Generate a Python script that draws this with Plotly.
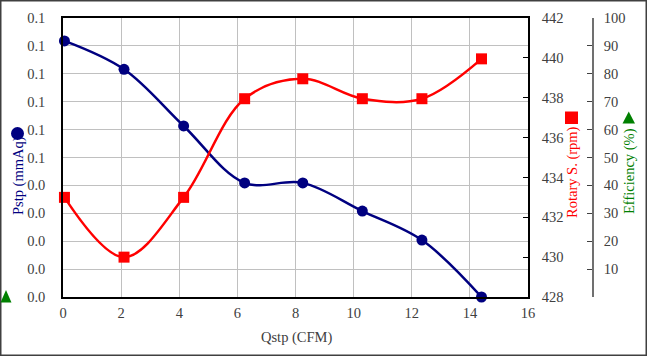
import plotly.graph_objects as go

# ---- data ----
qstp = [0.05, 2.1, 4.15, 6.25, 8.25, 10.3, 12.35, 14.4]
pstp = [0.0918, 0.0816, 0.0613, 0.0409, 0.0409, 0.0308, 0.0204, 0.0]
rotary = [433.0, 430.0, 433.0, 437.95, 438.95, 437.95, 437.95, 439.95]

left_tick_vals = [0.0, 0.01, 0.02, 0.03, 0.04, 0.05, 0.06, 0.07, 0.08, 0.09, 0.10]
left_tick_text = ["0.0", "0.0", "0.0", "0.0", "0.0", "0.1", "0.1", "0.1", "0.1", "0.1", "0.1"]
rot_tick_vals = [428, 430, 432, 434, 436, 438, 440, 442]
eff_tick_vals = [0, 10, 20, 30, 40, 50, 60, 70, 80, 90, 100]
eff_tick_text = ["", "10", "20", "30", "40", "50", "60", "70", "80", "90", "100"]
x_tick_vals = [0, 2, 4, 6, 8, 10, 12, 14, 16]

W, H = 647, 356
ML, MR, MT, MB = 63, 20, 18, 59
PW = W - ML - MR
PH = H - MT - MB

def px(x):
    return (x - ML) / PW

def py(y):
    return (H - MB - y) / PH

FONT = "Liberation Serif"
TICKC = "#404040"
NAVY = "#000080"
RED = "#ff0000"
GREEN = "#008000"
FS = 14.5

fig = go.Figure()
fig.add_trace(go.Scatter(
    x=qstp, y=pstp, mode="lines+markers", yaxis="y",
    line=dict(color=NAVY, width=2.5, shape="spline", smoothing=1),
    marker=dict(symbol="circle", size=11, color=NAVY),
    cliponaxis=False, showlegend=False))
fig.add_trace(go.Scatter(
    x=qstp, y=rotary, mode="lines+markers", yaxis="y2",
    line=dict(color=RED, width=2.5, shape="spline", smoothing=1),
    marker=dict(symbol="square", size=11, color=RED),
    cliponaxis=False, showlegend=False))
# dummy trace to make yaxis3 visible
fig.add_trace(go.Scatter(x=[None], y=[None], yaxis="y3", showlegend=False, hoverinfo="skip"))

xdom_r = px(528)
fig.update_layout(
    width=W, height=H,
    margin=dict(l=ML, r=MR, t=MT, b=MB, autoexpand=False),
    paper_bgcolor="white", plot_bgcolor="white",
    font=dict(family=FONT, size=FS, color=TICKC),
    xaxis=dict(domain=[0, xdom_r], range=[0, 16], tickvals=x_tick_vals,
               showgrid=True, gridcolor="#c0c0c0", gridwidth=1,
               showline=True, linecolor="black", linewidth=1.5, mirror=True,
               ticks="", zeroline=False, ticklabelstandoff=2, automargin=False,
               tickfont=dict(family=FONT, size=FS, color=TICKC)),
    yaxis=dict(range=[0, 0.1], tickvals=left_tick_vals, ticktext=left_tick_text,
               showgrid=True, gridcolor="#c0c0c0", gridwidth=1,
               showline=True, linecolor="black", linewidth=1.5, mirror=True,
               ticks="", zeroline=False, ticklabelstandoff=13, automargin=False,
               tickfont=dict(family=FONT, size=FS, color=TICKC)),
    yaxis2=dict(range=[428, 442], tickvals=rot_tick_vals, overlaying="y", side="right",
                anchor="x", showgrid=False, showline=True, linecolor="black", linewidth=1.5,
                ticks="inside", ticklen=5, tickcolor="black", zeroline=False,
                ticklabelstandoff=9, automargin=False,
                tickfont=dict(family=FONT, size=FS, color=TICKC)),
    yaxis3=dict(range=[0, 100], tickvals=eff_tick_vals, ticktext=eff_tick_text,
                overlaying="y", side="right", anchor="free", position=px(593),
                showgrid=False, showline=True, linecolor="#707070", linewidth=1.5,
                ticks="inside", ticklen=5, tickcolor="#404040", zeroline=False,
                ticklabelstandoff=7, automargin=False,
                tickfont=dict(family=FONT, size=FS, color=TICKC)),
)

annotations = [
    dict(text="Qstp (CFM)", x=px(296), y=py(337), font=dict(color=TICKC, size=FS, family=FONT)),
    dict(text="Pstp (mmAq)", x=px(18), y=py(176), textangle=-90, font=dict(color=NAVY, size=FS, family=FONT)),
    dict(text="Rotary S. (rpm)", x=px(572), y=py(172), textangle=-90, font=dict(color=RED, size=FS, family=FONT)),
    dict(text="Efficiency (%)", x=px(629), y=py(171), textangle=-90, font=dict(color=GREEN, size=FS, family=FONT)),
]
for a in annotations:
    a.update(xref="paper", yref="paper", showarrow=False, xanchor="center", yanchor="middle")
fig.update_layout(annotations=annotations)

shapes = [
    # outer border
    dict(type="rect", xref="paper", yref="paper", x0=px(0.75), x1=px(646.25), y0=py(355.25), y1=py(0.75),
         line=dict(color="#404040", width=1.5), fillcolor="rgba(0,0,0,0)"),
    # legend-like markers
    dict(type="circle", xref="paper", yref="paper", x0=px(11), x1=px(24), y0=py(140), y1=py(127),
         fillcolor=NAVY, line=dict(width=0)),
    dict(type="rect", xref="paper", yref="paper", x0=px(565), x1=px(578), y0=py(124), y1=py(111.5),
         fillcolor=RED, line=dict(width=0)),
    dict(type="path", xref="paper", yref="paper",
         path=f"M {px(622.5)} {py(123.5)} L {px(635)} {py(123.5)} L {px(628.75)} {py(111.5)} Z",
         fillcolor=GREEN, line=dict(width=0)),
    dict(type="path", xref="paper", yref="paper",
         path=f"M {px(0.5)} {py(302.5)} L {px(11.5)} {py(302.5)} L {px(6)} {py(290)} Z",
         fillcolor=GREEN, line=dict(width=0)),
]
fig.update_layout(shapes=shapes)

fig.write_html("out.html", config={"displayModeBar": False},
               post_script="document.body.style.margin='0';")
